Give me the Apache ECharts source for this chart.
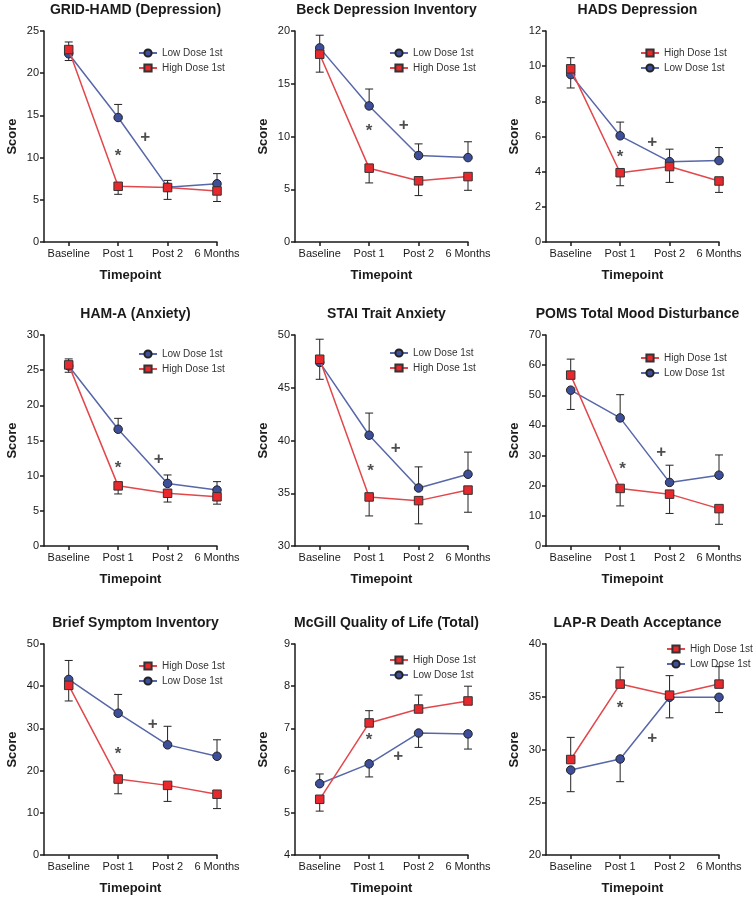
<!DOCTYPE html>
<html>
<head>
<meta charset="utf-8">
<script src="https://cdn.jsdelivr.net/npm/echarts@6/dist/echarts.min.js"></script>
<style>
html, body { margin: 0; padding: 0; background: #fff; }
#main { width: 754px; height: 900px; }
</style>
</head>
<body>
<div id="main"></div>
<script>
var timepoints = ['Baseline', 'Post 1', 'Post 2', '6 Months'];
var titles = ['GRID-HAMD (Depression)', 'Beck Depression Inventory', 'HADS Depression',
    'HAM-A (Anxiety)', 'STAI Trait Anxiety', 'POMS Total Mood Disturbance',
    'Brief Symptom Inventory', 'McGill Quality of Life (Total)', 'LAP-R Death Acceptance'];
var yMin = [0, 0, 0, 0, 30, 0, 0, 4, 20];
var yMax = [25, 20, 12, 30, 50, 70, 50, 9, 40];
var yStep = [5, 5, 2, 5, 5, 10, 10, 1, 5];

var lowMean = [
    [22.3, 14.75, 6.5, 6.9],
    [18.4, 12.9, 8.2, 8.0],
    [9.52, 6.04, 4.57, 4.63],
    [25.6, 16.6, 8.9, 7.95],
    [47.4, 40.5, 35.5, 36.8],
    [51.7, 42.5, 21.1, 23.5],
    [41.6, 33.6, 26.1, 23.4],
    [5.69, 6.16, 6.89, 6.87],
    [28.05, 29.1, 34.95, 34.95]
];
var lowSE = [
    [0.8, 1.55, 0.8, 1.2],
    [1.2, 1.6, 1.1, 1.5],
    [0.76, 0.78, 0.71, 0.74],
    [0.9, 1.55, 1.2, 1.2],
    [1.6, 2.1, 2.0, 2.1],
    [6.4, 7.7, 5.7, 6.7],
    [4.5, 4.45, 4.4, 3.9],
    [0.23, 0.31, 0.34, 0.36],
    [2.05, 2.15, 1.95, 1.45]
];
var highMean = [
    [22.8, 6.6, 6.45, 6.05],
    [17.8, 7.0, 5.8, 6.2],
    [9.85, 3.94, 4.29, 3.47],
    [25.75, 8.55, 7.5, 7.0],
    [47.7, 34.65, 34.3, 35.3],
    [56.7, 19.1, 17.2, 12.4],
    [40.2, 18.0, 16.5, 14.4],
    [5.32, 7.13, 7.46, 7.65],
    [29.05, 36.2, 35.15, 36.2]
];
var highSE = [
    [0.9, 0.95, 1.4, 1.25],
    [1.7, 1.4, 1.4, 1.3],
    [0.63, 0.74, 0.9, 0.65],
    [0.85, 1.15, 1.25, 1.05],
    [1.9, 1.8, 2.2, 2.1],
    [5.3, 5.8, 6.4, 5.2],
    [3.7, 3.5, 3.8, 3.4],
    [0.28, 0.29, 0.33, 0.35],
    [2.1, 1.6, 1.85, 1.65]
];
// legend order: true = High Dose 1st listed first
var highFirst = [false, false, true, false, false, true, true, true, true];
var starAt = [[1, 10.5], [1, 10.75], [1, 5.0], [1, 11.5], [1.03, 37.4], [1.05, 26.6], [1, 24.6], [1, 6.79], [1, 34.2]];
var plusAt = [[1.55, 12.4], [1.7, 11.1], [1.65, 5.68], [1.82, 12.3], [1.54, 39.3], [1.83, 31.1], [1.7, 30.9], [1.59, 6.35], [1.65, 31.1]];

var colLeft = [44, 295, 546];
var rowTop = [31, 335, 644];
var plotW = 173, plotH = 211;
var legendTop = [43, 43, 43, 344, 343, 348, 656, 650, 639];

var lowLine = '#5767a8', lowFill = '#3d4f9a';
var highLine = '#e2474b', highFill = '#e8282c';
var ink = '#1a1a1a';

function errBar(params, api) {
    var p = api.coord([api.value(0), api.value(1)]);
    var q = api.coord([api.value(0), api.value(2)]);
    var st = { stroke: '#222', lineWidth: 1 };
    return {
        type: 'group',
        children: [
            { type: 'line', shape: { x1: p[0], y1: p[1], x2: q[0], y2: q[1] }, style: st },
            { type: 'line', shape: { x1: q[0] - 4, y1: q[1], x2: q[0] + 4, y2: q[1] }, style: st }
        ]
    };
}

var grids = [], xAxes = [], yAxes = [], series = [], legends = [], titleList = [];

for (var i = 0; i < 9; i++) {
    var gLeft = colLeft[i % 3], gTop = rowTop[Math.floor(i / 3)];
    grids.push({ left: gLeft, top: gTop, width: plotW, height: plotH });
    titleList.push({
        text: titles[i], left: gLeft + plotW / 2, top: gTop - 33, textAlign: 'center',
        textStyle: { fontSize: 14, fontWeight: 'bold', color: ink }
    });
    xAxes.push({
        type: 'value', gridIndex: i, min: -0.5, max: 3,
        name: 'Timepoint', nameLocation: 'middle', nameGap: 27,
        nameTextStyle: { fontSize: 13, fontWeight: 'bold', color: ink },
        axisLine: { onZero: false, lineStyle: { color: ink, width: 1.5 } },
        axisTick: { customValues: [0, 1, 2, 3], length: 4, lineStyle: { color: ink, width: 1.5 } },
        axisLabel: {
            customValues: [0, 1, 2, 3], color: ink, fontSize: 11, margin: 6,
            formatter: function (v) { return timepoints[Math.round(v)]; }
        },
        splitLine: { show: false }
    });
    yAxes.push({
        type: 'value', gridIndex: i, min: yMin[i], max: yMax[i], interval: yStep[i],
        name: 'Score', nameLocation: 'middle', nameGap: 25,
        nameTextStyle: { fontSize: 13, fontWeight: 'bold', color: ink },
        axisLine: { show: true, onZero: false, lineStyle: { color: ink, width: 1.5 } },
        axisTick: { show: true, length: 4, lineStyle: { color: ink, width: 1.5 } },
        axisLabel: { color: ink, fontSize: 11, margin: 5 },
        splitLine: { show: false }
    });

    var lowPts = [], highPts = [], lowErr = [], highErr = [];
    for (var j = 0; j < 4; j++) {
        var lo = lowMean[i][j], hi = highMean[i][j];
        lowPts.push([j, lo]);
        highPts.push([j, hi]);
        lowErr.push([j, lo, lo + (lo >= hi ? 1 : -1) * lowSE[i][j]]);
        highErr.push([j, hi, hi + (hi > lo ? 1 : -1) * highSE[i][j]]);
    }

    series.push({
        type: 'custom', name: 'err-low-' + i, xAxisIndex: i, yAxisIndex: i, z: 1,
        renderItem: errBar, data: lowErr, silent: true
    });
    series.push({
        type: 'custom', name: 'err-high-' + i, xAxisIndex: i, yAxisIndex: i, z: 1,
        renderItem: errBar, data: highErr, silent: true
    });
    series.push({
        type: 'line', name: 'Low Dose 1st', xAxisIndex: i, yAxisIndex: i, z: 3,
        data: lowPts, symbol: 'circle', symbolSize: 8.5,
        itemStyle: { color: lowFill, borderColor: '#222', borderWidth: 1 },
        lineStyle: { color: lowLine, width: 1.5 }
    });
    series.push({
        type: 'line', name: 'High Dose 1st', xAxisIndex: i, yAxisIndex: i, z: 4,
        data: highPts, symbol: 'rect', symbolSize: 8.5,
        itemStyle: { color: highFill, borderColor: '#333', borderWidth: 1 },
        lineStyle: { color: highLine, width: 1.5 }
    });
    series.push({
        type: 'scatter', name: 'marks-' + i, xAxisIndex: i, yAxisIndex: i, z: 5,
        symbolSize: 1, itemStyle: { color: 'rgba(0,0,0,0)' }, silent: true,
        label: { show: true, position: 'inside', color: '#222', fontSize: 17, fontWeight: 'bold' },
        data: [
            { value: starAt[i], label: { formatter: '*', offset: [0, 3] } },
            { value: plusAt[i], label: { formatter: '+' } }
        ]
    });

    legends.push({
        left: gLeft + 89, top: legendTop[i], orient: 'vertical',
        itemWidth: 18, itemHeight: 9, itemGap: 5,
        textStyle: { fontSize: 10, color: '#333' },
        data: highFirst[i] ? ['High Dose 1st', 'Low Dose 1st'] : ['Low Dose 1st', 'High Dose 1st']
    });
}
// last panel legend sits further right
legends[8].left = 661;

var myChart = echarts.init(document.getElementById('main'));
var option = {
    animation: false,
    backgroundColor: '#fff',
    textStyle: { fontFamily: '"Liberation Sans", Arial, sans-serif' },
    title: titleList,
    legend: legends,
    grid: grids,
    xAxis: xAxes,
    yAxis: yAxes,
    series: series
};
myChart.setOption(option);
</script>
</body>
</html>
